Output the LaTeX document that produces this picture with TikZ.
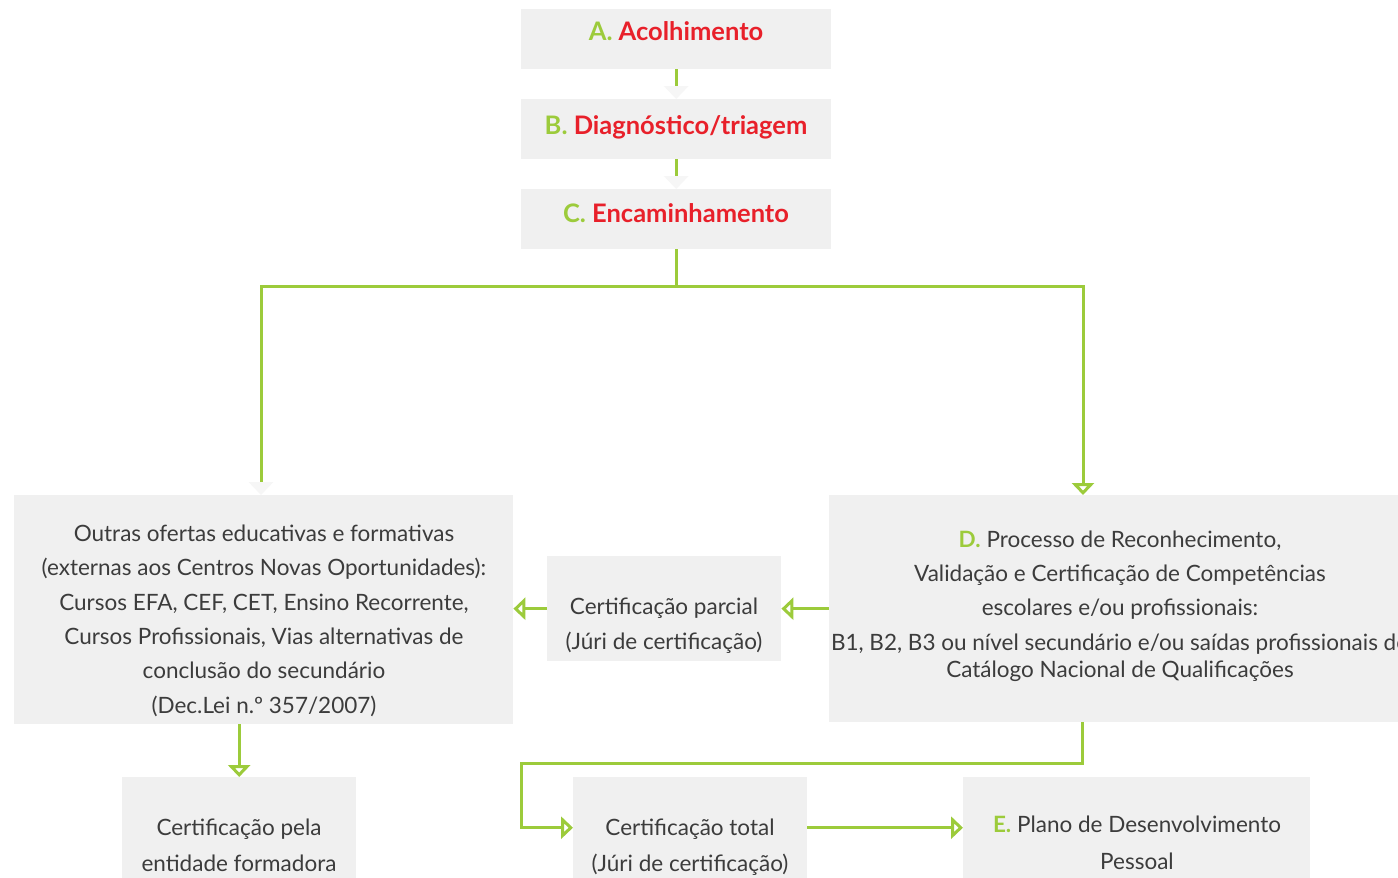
\documentclass[tikz,border=0pt]{standalone}
\usepackage{fontspec}
\setmainfont{Lato}
\usetikzlibrary{arrows.meta}
\definecolor{boxgray}{HTML}{F0F0F0}
\definecolor{lgreen}{HTML}{9CCB3B}
\definecolor{hred}{HTML}{E8202A}
\definecolor{tgray}{HTML}{3C3C3C}
\definecolor{tipgray}{HTML}{F6F6F6}
\tikzset{
  box/.style={fill=boxgray, draw=none, inner sep=0pt, anchor=north west},
  conn/.style={draw=lgreen, line width=3pt},
  gtip/.style={-{Triangle[open, width=22pt, length=12pt, line width=3pt]}},
  ftip/.style={-{Triangle[width=24pt, length=13pt, color=tipgray, fill=tipgray]}},
  title/.style={font={\fontsize{25.5pt}{30pt}\selectfont\bfseries}, text=hred, inner sep=0pt, anchor=base},
  body/.style={font={\fontsize{22.5pt}{34.3pt}\selectfont}, text=tgray, inner sep=0pt, anchor=base, align=center},
}
\begin{document}
\begin{tikzpicture}[x=1pt, y=-1pt]
\clip (0,0) rectangle (1398,878);
\fill[white] (0,0) rectangle (1398,878);
% boxes
\node[box, minimum width=310pt, minimum height=60pt] (A) at (521,9) {};
\node[box, minimum width=310pt, minimum height=60pt] (B) at (521,99) {};
\node[box, minimum width=310pt, minimum height=60pt] (C) at (521,189) {};
\node[box, minimum width=499pt, minimum height=229pt] (L) at (14,495) {};
\node[box, minimum width=234pt, minimum height=105pt] (P) at (547,556) {};
\node[box, minimum width=620pt, minimum height=227pt] (D) at (829,495) {};
\node[box, minimum width=234pt, minimum height=101pt] (CP) at (122,777) {};
\node[box, minimum width=234pt, minimum height=101pt] (CT) at (573,777) {};
\node[box, minimum width=347pt, minimum height=101pt] (E) at (963,777) {};
% connectors
\coordinate (jl) at (261,286);
\coordinate (jr) at (1083,286);
\coordinate (k1) at (1082,763);
\coordinate (k2) at (521,763);
\draw[conn, ftip] (A.south) -- (B.north);
\draw[conn, ftip] (B.south) -- (C.north);
\draw[conn, ftip] (C.south) |- (jl) -- (jl |- L.north);
\draw[conn, gtip] (C.south) |- (jr) -- (jr |- D.north);
\draw[conn, gtip] (D.west |- P.east) -- (P.east);
\draw[conn, gtip] (P.west) -- (P.west -| L.east);
\draw[conn, gtip] (CP.north |- L.south) -- (CP.north);
\draw[conn, gtip] (k1 |- D.south) -- (k1) -- (k2) |- (CT.west);
\draw[conn, gtip] (CT.east |- E.west) -- (E.west);
% texts
\node[title] (tA) at (676,40) {\textcolor{lgreen}{A.} Acolhimento};
\node[title] (tB) at (676,134) {\textcolor{lgreen}{B.} Diagnóstico/triagem};
\node[title] (tC) at (676,222) {\textcolor{lgreen}{C.} Encaminhamento};
\node[body] (tL) at (264,713) {Outras ofertas educativas e formativas\\(externas aos Centros Novas Oportunidades):\\Cursos EFA, CEF, CET, Ensino Recorrente,\\Cursos Profissionais, Vias alternativas de\\conclusão do secundário\\(Dec.Lei n.º 357/2007)};
\node[body] (tP) at (664,649) {Certificação parcial\\(Júri de certificação)};
\node[body] (tD) at (1120,677) {\textcolor{lgreen}{\bfseries D.} Processo de Reconhecimento,\\Validação e Certificação de Competências\\escolares e/ou profissionais:\\B1, B2, B3 ou nível secundário e/ou saídas profissionais do\\[-7.3pt]Catálogo Nacional de Qualificações};
\node[body, font={\fontsize{22.5pt}{36pt}\selectfont}] (tCP) at (239,871) {Certificação pela\\entidade formadora};
\node[body, font={\fontsize{22.5pt}{36pt}\selectfont}] (tCT) at (690,871) {Certificação total\\(Júri de certificação)};
\node[body, font={\fontsize{22.5pt}{37pt}\selectfont}] (tE) at (1137,869) {\textcolor{lgreen}{\bfseries E.} Plano de Desenvolvimento\\Pessoal};
\end{tikzpicture}
\end{document}
